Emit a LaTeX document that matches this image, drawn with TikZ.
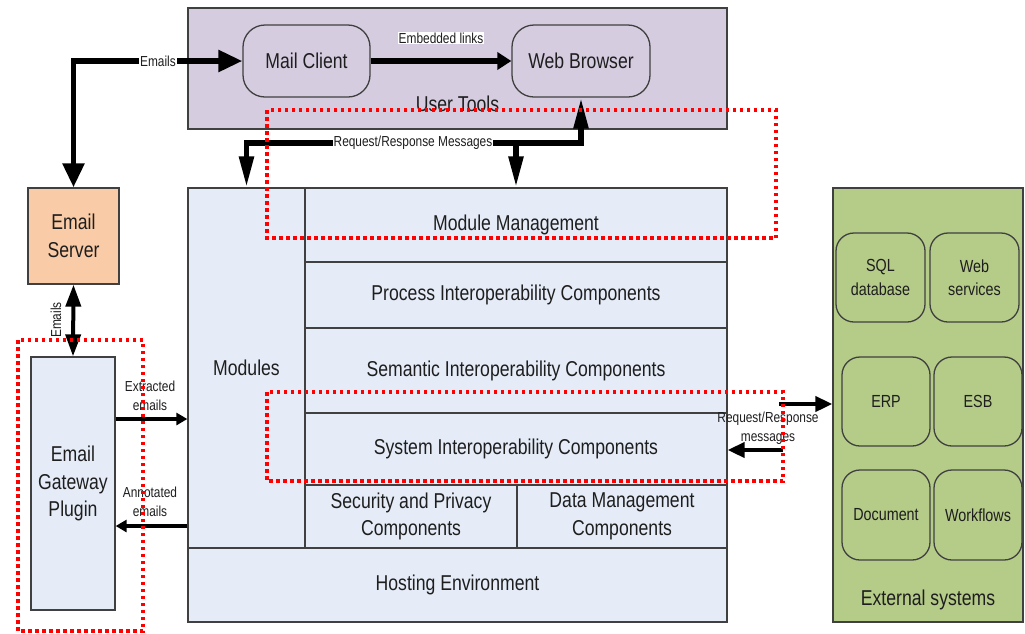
\documentclass[tikz,border=0pt]{standalone}
\usepackage{fontspec}
\setmainfont{Liberation Sans}[FakeStretch=0.82]
\usetikzlibrary{arrows.meta,calc}
\definecolor{lav}{HTML}{D5CCE0}
\definecolor{lblue}{HTML}{E5ECF7}
\definecolor{peach}{HTML}{F9CBA6}
\definecolor{xgreen}{HTML}{B5CB88}
\definecolor{bord}{HTML}{404040}
\definecolor{txt}{HTML}{1E1E1E}
\definecolor{rdot}{HTML}{FF0000}
\tikzset{
  box/.style={draw=bord, line width=1.3pt, text=txt, align=center, inner sep=0pt,
    font=\fontsize{21.5}{27.5}\selectfont},
  pill/.style={box, rounded corners=22pt, fill=lav},
  extbox/.style={box, rounded corners=18pt, fill=xgreen, font=\fontsize{17.5}{23.5}\selectfont},
  bigtxt/.style={text=txt, align=center, inner sep=0pt, font=\fontsize{21.5}{27.5}\selectfont},
  small/.style={text=txt, align=center, inner sep=1pt, font=\fontsize{14.5}{19.5}\selectfont},
  wlabel/.style={small, fill=white},
  heavy/.style={line width=5.5pt, draw=black},
  medium/.style={line width=4pt, draw=black},
  light/.style={line width=3.5pt, draw=black},
  bigtip/.tip={Triangle[length=24pt,width=21pt]},
  flattip/.tip={Triangle[length=14pt,width=17pt]},
  longtip/.tip={Triangle[length=31pt,width=14pt]},
  vtip/.tip={Triangle[length=22pt,width=15pt]},
  smalltip/.tip={Triangle[length=11pt,width=12pt]},
  exttip/.tip={Triangle[length=17pt,width=15pt]},
  reddot/.style={draw=rdot, line width=3.2pt, dash pattern=on 3.5pt off 3.5pt}
}
\begin{document}
\begin{tikzpicture}[x=1pt,y=-1pt]
\useasboundingbox (0,0) rectangle (1025,633);

% User tools
\node[box, fill=lav, minimum width=539pt, minimum height=121pt] (ut) at (457.5,68.5) {};
\node[bigtxt] (utl) at (457.5,104) {User Tools};
\node[pill, minimum width=127pt, minimum height=72pt] (mc) at (306.5,61) {Mail Client};
\node[pill, minimum width=138pt, minimum height=72pt] (wb) at (581,61) {Web Browser};

% Email server and gateway
\node[box, fill=peach, minimum width=91pt, minimum height=96pt] (es) at (73.5,236) {Email\\Server};
\node[box, fill=lblue, minimum width=84pt, minimum height=253pt] (gw) at (73,483.5) {Email\\Gateway\\Plugin};

% Main block
\node[box, fill=lblue, minimum width=117pt, minimum height=360pt] (mod) at (246.5,368) {Modules};
\node[box, fill=lblue, minimum width=422pt, minimum height=74pt] (mm) at (516,225) {Module Management};
\node[box, fill=lblue, minimum width=422pt, minimum height=66pt] (pic) at (516,295) {Process Interoperability Components};
\node[box, fill=lblue, minimum width=422pt, minimum height=85pt] (sic) at (516,370.5) {Semantic Interoperability Components};
\node[box, fill=lblue, minimum width=422pt, minimum height=72pt] (syc) at (516,449) {System Interoperability Components};
\node[box, fill=lblue, minimum width=212pt, minimum height=63pt] (sec) at (411,516.5) {Security and Privacy\\Components};
\node[box, fill=lblue, minimum width=210pt, minimum height=63pt] (dmc) at (622,516.5) {Data Management\\Components};
\node[box, fill=lblue, minimum width=539pt, minimum height=74pt] (host) at (457.5,585) {Hosting Environment};

% External systems
\node[box, fill=xgreen, minimum width=190pt, minimum height=434pt] (ext) at (928,405) {};
\node[bigtxt] (extl) at (928,600) {External systems};
\node[extbox, minimum width=89pt, minimum height=89pt] (sql) at (880.5,277.5) {SQL\\database};
\node[extbox, minimum width=89pt, minimum height=89pt] (ws) at (974.5,277.5) {Web\\services};
\node[extbox, minimum width=88pt, minimum height=89pt] (erp) at (886,401.5) {ERP};
\node[extbox, minimum width=88pt, minimum height=89pt] (esb) at (978,401.5) {ESB};
\node[extbox, minimum width=88pt, minimum height=90pt] (doc) at (886,515) {Document};
\node[extbox, minimum width=88pt, minimum height=90pt] (wf) at (978,515) {Workflows};

% Connectors
\draw[heavy, {bigtip}-{bigtip}] (es.north) |- (mc.west)
  node[wlabel, pos=0.75] (lem) {Emails};
\draw[heavy, -{flattip}] (mc.east) -- (wb.west);
\node[wlabel] (lemb) at (441,38) {Embedded links};

\coordinate (rr) at (413,143);
\draw[heavy, {longtip}-{longtip}] (wb.south) |- (rr) -| (mod.north);
\draw[heavy, -{longtip}] (mm.north |- rr) -- (mm.north);
\node[wlabel] (lrr) at (rr) {Request/Response Messages};

\draw[medium, {vtip}-{vtip}] (es.south) -- (gw.north);
\node[small, rotate=90] (lem2) at (56,320) {Emails};

\coordinate (ex) at (150,419);
\coordinate (an) at (150,526);
\draw[light, -{smalltip}] (gw.east |- ex) -- (mod.west |- ex);
\draw[light, -{smalltip}] (mod.west |- an) -- (gw.east |- an);
\node[small] (lex) at (150,396) {Extracted\\emails};
\node[small] (lan) at (150,502) {Annotated\\emails};

\coordinate (r1) at (779,404);
\coordinate (r2) at (783,450);
\draw[medium, -{exttip}] (r1) -- (ext.west |- r1);
\draw[medium, -{exttip}] (r2) -- (syc.east |- r2);
\node[small] (lrq) at (768,428) {Request/Response\\messages};

% Red dotted highlights
\draw[reddot] (267,110) rectangle (776,238);
\draw[reddot] (267,392) rectangle (783,481);
\draw[reddot] (18,340) rectangle (143,631);
\end{tikzpicture}
\end{document}
